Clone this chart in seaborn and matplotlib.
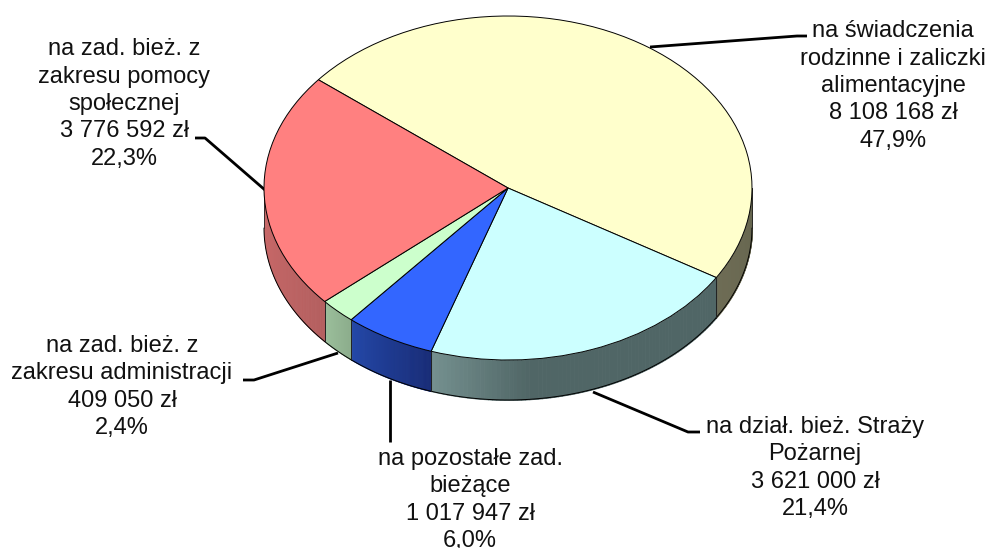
import numpy as np
import seaborn as sb
import matplotlib
matplotlib.use("Agg")
import matplotlib.pyplot as plt

# Data
categories = ["na świadczenia\nrodzinne i zaliczki\nalimentacyjne",
              "na dział. bież. Straży\nPożarnej",
              "na pozostałe zad.\nbieżące",
              "na zad. bież. z\nzakresu administracji",
              "na zad. bież. z\nzakresu pomocy\nspołecznej"]
values = [8108168, 3621000, 1017947, 409050, 3776592]
percents = ["47,9%", "21,4%", "6,0%", "2,4%", "22,3%"]

top_colors = sb.color_palette(["#FFFFCC", "#CCFFFF", "#3366FF", "#CCFFCC", "#FF8080"])
wall_left = sb.color_palette(["#6E6C55", "#74908F", "#2448A8", "#9CBF9C", "#CC6A6A"])
wall_right = sb.color_palette(["#66664F", "#506666", "#182C78", "#8CAD8C", "#B45F5F"])
# share of the wedge over which the wall shade fades from left to right colour
fade = [1, 0.3, 1, 1, 1]

# label centre (px), leader line (px)
label_pos = [(893, 86), (815, 468), (470, 500), (122, 387), (124, 104)]
leaders = [[(650, 47), (797, 36), (807, 36)],
           [(593, 392), (688, 432), (700, 432)],
           [(390, 380), (390, 442)],
           [(338, 353), (254, 380), (243, 380)],
           [(265, 190), (205, 138), (195, 138)]]

W, H = 991, 548
cx, cy, rx, ry, depth_px = 508, 188, 244, 172, 40
depth = depth_px / ry

sb.set_theme(style="white")
plt.rcParams['font.family'] = ['Liberation Sans', 'DejaVu Sans']

fig = plt.figure(figsize=(W / 100, H / 100), dpi=100)
ax = fig.add_axes([0, 0, 1, 1])

wedges, _ = ax.pie(values, colors=top_colors, startangle=141, counterclock=False,
                   wedgeprops=dict(edgecolor="black", linewidth=0.7, zorder=5))
ax.set_aspect("auto")
ax.set_xlim(-cx / rx, (W - cx) / rx)
ax.set_ylim((cy - H) / ry, cy / ry)
ax.axis("off")

# Side wall of the disc, only the front half is visible
for i, wedge in enumerate(wedges):
    t1 = max(wedge.theta1, -180)
    t2 = min(wedge.theta2, 0)
    if t2 <= t1:
        continue
    theta = np.radians(np.linspace(t1, t2, 80))
    x = np.cos(theta)
    y = np.sin(theta)
    c1 = np.array(wall_left[i])
    c2 = np.array(wall_right[i])
    for j in range(len(theta) - 1):
        f = min(j / (len(theta) - 2) / fade[i], 1)
        col = tuple(c1 + (c2 - c1) * f)
        ax.fill_between(x[j:j + 2], y[j:j + 2], y[j:j + 2] - depth, color=col,
                        linewidth=0.6, zorder=2)
    ax.plot(x, y - depth, color="black", lw=0.7, zorder=3)
    ax.plot([x[0], x[0]], [y[0], y[0] - depth], color="#222222", lw=0.6, zorder=3)
    ax.plot([x[-1], x[-1]], [y[-1], y[-1] - depth], color="#222222", lw=0.6, zorder=3)

# Leader lines
for line in leaders:
    xs = [p[0] / W for p in line]
    ys = [1 - p[1] / H for p in line]
    ax.plot(xs, ys, color="black", lw=2.0, transform=fig.transFigure, zorder=1,
            solid_capstyle="butt", clip_on=False)

# Labels
for cat, val, pct, pos in zip(categories, values, percents, label_pos):
    money = f"{val:,}".replace(",", " ") + " zł"
    fig.text(pos[0] / W, 1 - pos[1] / H, cat + "\n" + money + "\n" + pct,
             ha="center", va="center", fontsize=17, color="#111111", linespacing=1.31)

fig.savefig("out.png", dpi=100)
